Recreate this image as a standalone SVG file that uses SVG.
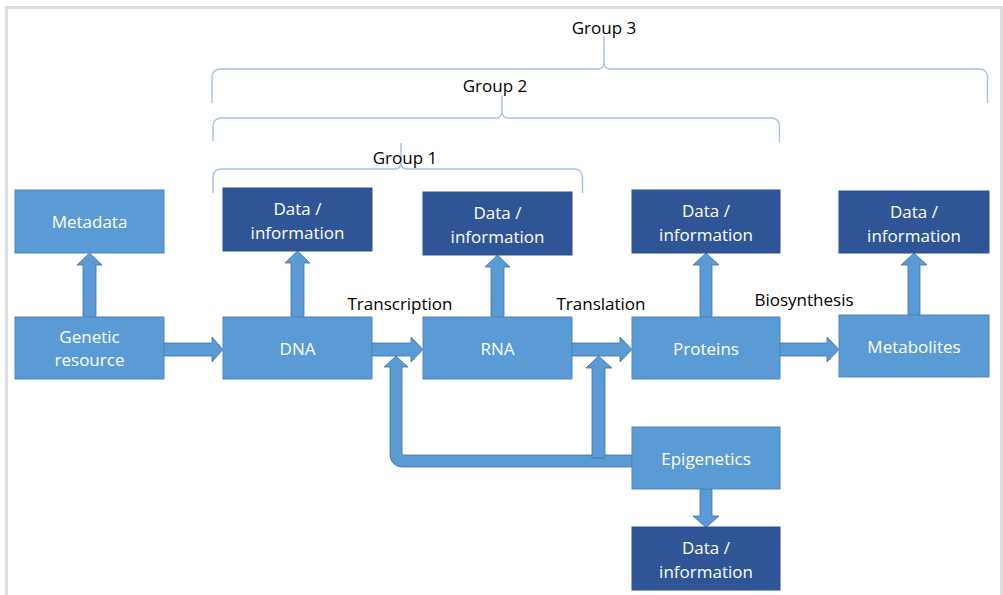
<svg xmlns="http://www.w3.org/2000/svg" width="1003" height="595" viewBox="0 0 1003 595">
<style>
.light{fill:#5B9BD5;stroke:#4F86C0;stroke-width:1}
.dark{fill:#2F5597;stroke:#2F528F;stroke-width:1}
.arrow{fill:#5B9BD5;stroke:#41719C;stroke-width:0.8}
.brace{fill:none;stroke:#A7C0E6;stroke-width:1.4}
.nt{font-family:"Open Sans","Liberation Sans",sans-serif;font-size:17px;fill:#FFFFFF;text-anchor:middle}
.lbl{font-family:"Open Sans","Liberation Sans",sans-serif;font-size:17px;fill:#000000;text-anchor:middle}
</style>
<rect x="0" y="0" width="1003" height="595" fill="#FFFFFF"/>
<path d="M6.5,595 L6.5,7.5 L1001.5,7.5 L1001.5,595" fill="none" stroke="#DDDDDD" stroke-width="3"/>

<g id="braces">
<path class="brace" d="M212,103 L212,77 Q212.5,69 221,69 L598,69 Q604,69 604,62 L604,36 M604,62 Q604,69 610,69 L979,69 Q987,69 987.5,77 L987.5,103"/>
<path class="brace" d="M213,141 L213,126 Q213.5,118 222,118 L496,118 Q502,118 502,111 L502,95 M502,111 Q502,118 508,118 L771,118 Q779,118 779.5,126 L779.5,142"/>
<path class="brace" d="M213,193 L213,177 Q213.5,169 222,169 L395,169 Q401,169 401,162 L401,143 M401,162 Q401,169 407,169 L574,169 Q582,169 582.5,177 L582.5,193"/>
<text class="lbl" x="604" y="34">Group 3</text>
<text class="lbl" x="495" y="92">Group 2</text>
<text class="lbl" x="405" y="164">Group 1</text>
</g>

<g id="connectors">
<polygon class="arrow" points="83,317 83,265 77,265 89.5,253 102,265 96,265 96,317"/>
<polygon class="arrow" points="291,317 291,263 285,263 297.5,251 310,263 304,263 304,317"/>
<polygon class="arrow" points="491,317 491,267 485,267 497.5,255 510,267 504,267 504,317"/>
<polygon class="arrow" points="700,317 700,265 693,265 706,253 719,265 712,265 712,317"/>
<polygon class="arrow" points="908,315 908,265 901,265 914,253 927,265 920,265 920,315"/>
<polygon class="arrow" points="164,343 212,343 212,337 223,349.5 212,362 212,356 164,356"/>
<polygon class="arrow" points="372,343 411,343 411,337 423,349.5 411,362 411,356 372,356"/>
<polygon class="arrow" points="572,343 620,343 620,337 632,349.5 620,362 620,356 572,356"/>
<polygon class="arrow" points="780,343 827,343 827,337 839,349.5 827,362 827,356 780,356"/>
<path class="arrow" d="M632,455 L404,455 Q402,455 402,453 L402,367 L408,367 L396,356 L384,367 L390,367 L390,455 A12,12 0 0 0 402,467 L632,467 Z"/>
<polygon class="arrow" points="592,458 592,368 586,368 598.5,356 612,368 605,368 605,458"/>
<polygon class="arrow" points="700,489 700,516 693,516 706,527.5 719,516 712,516 712,489"/>
<text class="lbl" x="400" y="310">Transcription</text>
<text class="lbl" x="601" y="310">Translation</text>
<text class="lbl" x="804" y="306">Biosynthesis</text>
</g>

<g id="metadata"><rect class="light" x="15" y="190" width="149" height="63"/><text class="nt" x="89.5" y="228">Metadata</text></g>
<g id="genetic-resource"><rect class="light" x="15" y="317" width="149" height="62"/><text class="nt" x="89.5" y="343">Genetic</text><text class="nt" x="89.5" y="366">resource</text></g>
<g id="dna"><rect class="light" x="223" y="317" width="149" height="62"/><text class="nt" x="297.5" y="355">DNA</text></g>
<g id="dna-data"><rect class="dark" x="223" y="188" width="149" height="63"/><text class="nt" x="297.5" y="215">Data /</text><text class="nt" x="297.5" y="239">information</text></g>
<g id="rna"><rect class="light" x="423" y="317" width="149" height="62"/><text class="nt" x="497.5" y="355">RNA</text></g>
<g id="rna-data"><rect class="dark" x="423" y="192" width="149" height="63"/><text class="nt" x="497.5" y="219">Data /</text><text class="nt" x="497.5" y="243">information</text></g>
<g id="proteins"><rect class="light" x="632" y="317" width="148" height="62"/><text class="nt" x="706" y="355">Proteins</text></g>
<g id="proteins-data"><rect class="dark" x="632" y="190" width="148" height="63"/><text class="nt" x="706" y="217">Data /</text><text class="nt" x="706" y="241">information</text></g>
<g id="metabolites"><rect class="light" x="839" y="315" width="150" height="62"/><text class="nt" x="914" y="353">Metabolites</text></g>
<g id="metabolites-data"><rect class="dark" x="839" y="191" width="150" height="62"/><text class="nt" x="914" y="218">Data /</text><text class="nt" x="914" y="242">information</text></g>
<g id="epigenetics"><rect class="light" x="632" y="427" width="148" height="62"/><text class="nt" x="706" y="465">Epigenetics</text></g>
<g id="epigenetics-data"><rect class="dark" x="632" y="527" width="148" height="63"/><text class="nt" x="706" y="554">Data /</text><text class="nt" x="706" y="578">information</text></g>
</svg>
